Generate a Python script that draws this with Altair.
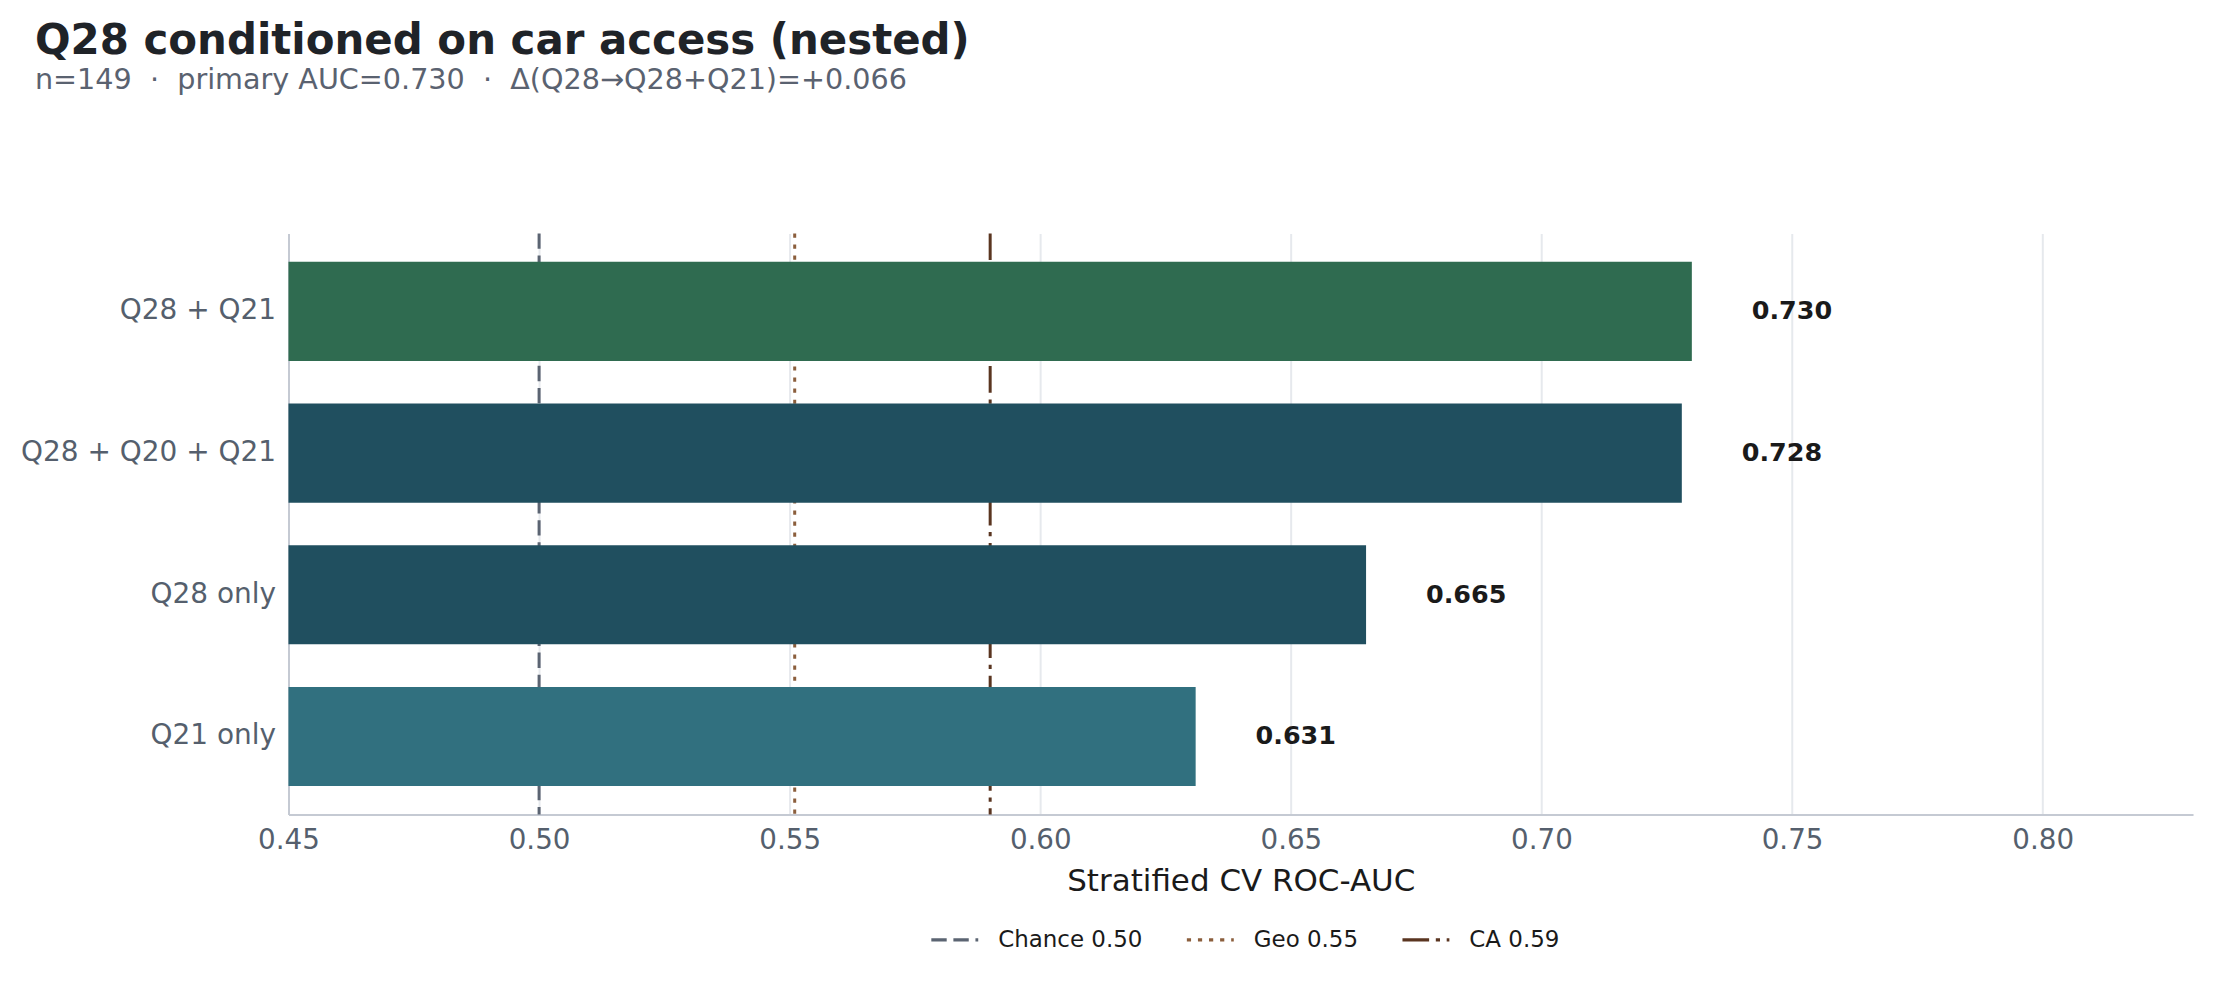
import altair as alt
import pandas as pd

# ---- data ----
models = ["Q28 + Q21", "Q28 + Q20 + Q21", "Q28 only", "Q21 only"]
auc = [0.730, 0.728, 0.665, 0.631]
auc_labels = ["0.730", "0.728", "0.665", "0.631"]
bar_colors = ["#2f6b50", "#204f5f", "#204f5f", "#31707f"]

ref_names = ["Chance 0.50", "Geo 0.55", "CA 0.59"]
ref_values = [0.500, 0.551, 0.590]
ref_colors = ["#5b6472", "#8b5e3c", "#5a3520"]
ref_dashes = [[15.4, 6.7], [4.2, 6.9], [26.7, 6.7, 4.2, 6.7]]

x_ticks = [0.45, 0.50, 0.55, 0.60, 0.65, 0.70, 0.75, 0.80]
x_domain = [0.45, 0.83]

NB = "\u00a0"
title_text = "Q28 conditioned on car access (nested)"
subtitle_text = f"n=149{NB}{NB}·{NB}{NB}primary AUC=0.730{NB}{NB}·{NB}{NB}Δ(Q28→Q28+Q21)=+0.066"

bars_df = pd.DataFrame({"model": models, "auc": auc, "label": auc_labels})
refs_df = pd.DataFrame({"ref": ref_names, "value": ref_values})

FONT = "DejaVu Sans"

x_axis = alt.Axis(
    values=x_ticks, format=".2f", title="Stratified CV ROC-AUC",
    titleFontSize=31, titleFontWeight="normal", titleColor="#1a1a1a",
    labelFontSize=27.8, labelColor="#555f6d", ticks=False, labelPadding=12,
    titlePadding=12, grid=True, gridColor="#e6e9ed", gridWidth=2,
    domainColor="#c5cad3", domainWidth=2, labelFlush=False,
)
x_scale = alt.Scale(domain=x_domain, nice=False, zero=False)

y_enc = alt.Y(
    "model:N", sort=models,
    scale=alt.Scale(domain=models, paddingInner=0.3, paddingOuter=0.2),
    axis=alt.Axis(title=None, labelFontSize=28, labelColor="#555f6d",
                  labelPadding=13, ticks=False, domainColor="#c5cad3",
                  domainWidth=2, grid=False, labelLimit=400),
)

rules = alt.Chart(refs_df).mark_rule(strokeWidth=3).encode(
    x=alt.X("value:Q", scale=x_scale, axis=x_axis),
    stroke=alt.Stroke("ref:N", scale=alt.Scale(domain=ref_names, range=ref_colors),
                      legend=alt.Legend(title=None)),
    strokeDash=alt.StrokeDash("ref:N", scale=alt.Scale(domain=ref_names, range=ref_dashes),
                              legend=alt.Legend(title=None)),
)

bars = alt.Chart(bars_df).mark_bar(clip=True).encode(
    x=alt.X("auc:Q", scale=x_scale, axis=x_axis),
    y=y_enc,
    fill=alt.Fill("model:N", scale=alt.Scale(domain=models, range=bar_colors), legend=None),
)

texts = alt.Chart(bars_df).mark_text(
    align="left", baseline="middle", dx=60, fontSize=25.5, fontWeight="bold",
    color="#1a1a1a", font=FONT,
).encode(
    x=alt.X("auc:Q", scale=x_scale, axis=x_axis),
    y=y_enc,
    text="label:N",
)

chart = alt.layer(rules, bars, texts).properties(
    width=1908,
    height=582,
    autosize=alt.AutoSizeParams(type="none"),
    padding={"left": 281, "top": 225, "right": 20, "bottom": 150},
    title=alt.TitleParams(
        text=title_text, subtitle=subtitle_text, anchor="start", frame="group",
        dx=-254, offset=137, font=FONT, fontSize=42, fontWeight="bold",
        color="#1f2328", subtitleFont=FONT, subtitleFontSize=28.7,
        subtitleColor="#5a6270", subtitlePadding=3,
    ),
).configure(font=FONT).configure_view(stroke=None).configure_legend(
    orient="none", legendX=642, legendY=682, direction="horizontal",
    symbolType="stroke", symbolSize=2209, symbolStrokeWidth=3.3,
    labelFontSize=23, labelColor="#1a1a1a", labelOffset=18,
    columnPadding=37, labelFont=FONT,
)

chart.save("out.html", embed_options={"renderer": "svg", "actions": False})
